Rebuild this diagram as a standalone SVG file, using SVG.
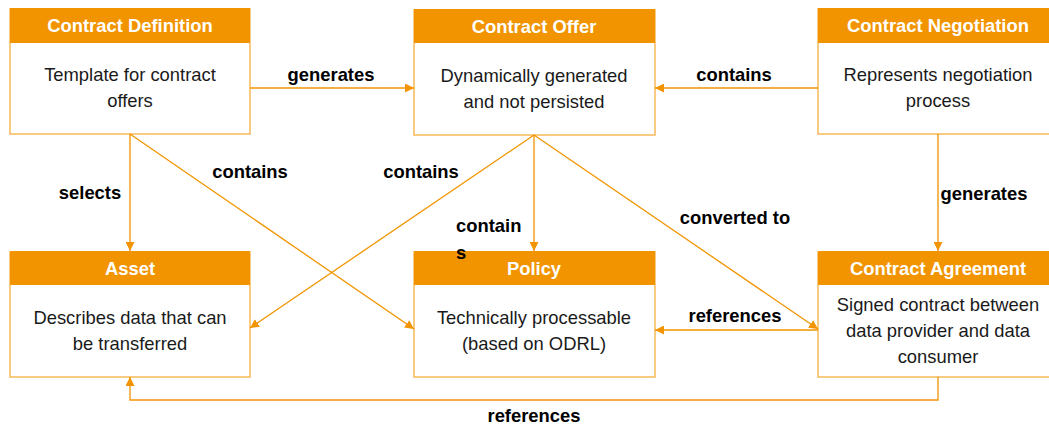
<svg xmlns="http://www.w3.org/2000/svg" width="1049" height="428" viewBox="0 0 1049 428">
<style>
.box{fill:#fff;stroke:#F8B959;stroke-width:1.5}
.hdr{fill:#F29400}
.ht{font-family:"Liberation Sans",Arial,sans-serif;font-size:18.4px;font-weight:bold;fill:#fff;text-anchor:middle}
.bt{font-family:"Liberation Sans",Arial,sans-serif;font-size:18.4px;fill:#1a1a1a;text-anchor:middle}
.lb{font-family:"Liberation Sans",Arial,sans-serif;font-size:18.4px;font-weight:bold;fill:#000;text-anchor:middle}
.cn{fill:none;stroke:#F29400;stroke-width:1.3;marker-end:url(#ah)}
</style>
<defs>
<marker id="ah" viewBox="0 0 10 10" refX="10" refY="5" markerWidth="9" markerHeight="9" markerUnits="userSpaceOnUse" orient="auto">
<path d="M0,0 L10,5 L0,10 Z" fill="#F29400"/>
</marker>
</defs>
<rect width="1049" height="428" fill="#fff"/>

<g id="contract-definition">
<rect class="box" x="10" y="9" width="240" height="125"/>
<rect class="hdr" x="10" y="8" width="240" height="35"/>
<text class="ht" x="130" y="32">Contract Definition</text>
<text class="bt" x="130" y="81">Template for contract</text>
<text class="bt" x="130" y="107">offers</text>
</g>

<g id="contract-offer">
<rect class="box" x="414" y="10" width="241" height="125"/>
<rect class="hdr" x="414" y="9" width="241" height="34"/>
<text class="ht" x="534" y="33">Contract Offer</text>
<text class="bt" x="534" y="82">Dynamically generated</text>
<text class="bt" x="534" y="108">and not persisted</text>
</g>

<g id="contract-negotiation">
<rect class="box" x="818" y="9" width="240" height="125"/>
<rect class="hdr" x="818" y="8" width="240" height="35"/>
<text class="ht" x="938" y="32">Contract Negotiation</text>
<text class="bt" x="938" y="81">Represents negotiation</text>
<text class="bt" x="938" y="107">process</text>
</g>

<g id="asset">
<rect class="box" x="10" y="252" width="240" height="125"/>
<rect class="hdr" x="10" y="251" width="240" height="34"/>
<text class="ht" x="130" y="275">Asset</text>
<text class="bt" x="130" y="324">Describes data that can</text>
<text class="bt" x="130" y="350">be transferred</text>
</g>

<g id="policy">
<rect class="box" x="414" y="252" width="241" height="125"/>
<rect class="hdr" x="414" y="251" width="241" height="34"/>
<text class="ht" x="534" y="275">Policy</text>
<text class="bt" x="534" y="324">Technically processable</text>
<text class="bt" x="534" y="350">(based on ODRL)</text>
</g>

<g id="contract-agreement">
<rect class="box" x="818" y="252" width="240" height="125"/>
<rect class="hdr" x="818" y="251" width="240" height="34"/>
<text class="ht" x="938" y="275">Contract Agreement</text>
<text class="bt" x="938" y="311">Signed contract between</text>
<text class="bt" x="938" y="337">data provider and data</text>
<text class="bt" x="938" y="363">consumer</text>
</g>

<g id="connectors">
<path class="cn" d="M250,88 L414,88"/>
<path class="cn" d="M818,88 L655,88"/>
<path class="cn" d="M130,134 L130,251"/>
<path class="cn" d="M130,134 L414,329"/>
<path class="cn" d="M534,135 L250,328"/>
<path class="cn" d="M534,135 L534,251"/>
<path class="cn" d="M534,135 L818,329"/>
<path class="cn" d="M938,134 L938,251"/>
<path class="cn" d="M818,330 L655,330"/>
<path class="cn" d="M938,377 L938,400 L130,400 L130,377"/>
<text class="lb" x="331" y="81">generates</text>
<text class="lb" x="734" y="81">contains</text>
<text class="lb" x="90" y="199">selects</text>
<text class="lb" x="250" y="178">contains</text>
<text class="lb" x="421" y="178">contains</text>
<text class="lb" x="456" y="232" style="text-anchor:start">contain</text>
<text class="lb" x="456" y="259" style="text-anchor:start">s</text>
<text class="lb" x="735" y="224">converted to</text>
<text class="lb" x="984" y="200">generates</text>
<text class="lb" x="735" y="322">references</text>
<text class="lb" x="534" y="422">references</text>
</g>
</svg>
